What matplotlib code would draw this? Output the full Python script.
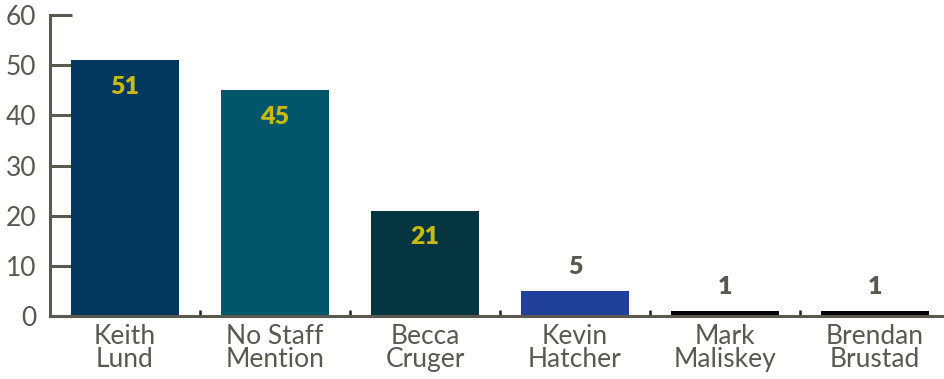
import matplotlib
matplotlib.use("Agg")
import matplotlib.pyplot as plt
from matplotlib.ticker import FixedLocator

# Mentions per staff member
names = ["Keith\nLund", "No Staff\nMention", "Becca\nCruger", "Kevin\nHatcher", "Mark\nMaliskey", "Brendan\nBrustad"]
counts = [51, 45, 21, 5, 1, 1]
bar_colors = ["#02375E", "#02566A", "#053540", "#21409A", "#000000", "#000000"]
y_ticks = [0, 10, 20, 30, 40, 50, 60]

axis_grey = "#595950"
inside_label = "#C8B914"
outside_label = "#595950"

plt.rcParams["font.family"] = ["Lato", "DejaVu Sans"]

fig = plt.figure(figsize=(9.44, 3.79), dpi=100)
ax = fig.add_axes([50 / 944, 63 / 379, 900 / 944, 301 / 379])

x = list(range(len(names)))
bars = ax.bar(x, counts, width=0.72, color=bar_colors, zorder=2)

ax.set_xlim(-0.5, len(names) - 0.5)
ax.set_ylim(0, 60)

for s in ["top", "right"]:
    ax.spines[s].set_visible(False)
for s in ["left", "bottom"]:
    ax.spines[s].set_color(axis_grey)
    ax.spines[s].set_linewidth(2.2)

ax.set_yticks(y_ticks)
ax.tick_params(axis="y", direction="in", length=16, width=2.2, color=axis_grey,
               labelsize=19, labelcolor=axis_grey, pad=10)

ax.set_xticks(x)
ax.set_xticklabels(names, linespacing=0.9)
ax.tick_params(axis="x", which="major", length=0, labelsize=19, labelcolor=axis_grey, pad=6)
ax.xaxis.set_minor_locator(FixedLocator([i + 0.5 for i in x]))
ax.tick_params(axis="x", which="minor", direction="in", length=4.5, width=1.8, color="#222222")

# Value labels: inside tall bars, above short ones
for xi, v in zip(x, counts):
    if v > 10:
        ax.annotate(str(v), (xi, v), xytext=(0, -19), textcoords="offset points",
                    ha="center", va="center", fontsize=18, fontweight="heavy",
                    color=inside_label, zorder=3)
    else:
        ax.annotate(str(v), (xi, v), xytext=(0, 17), textcoords="offset points",
                    ha="center", va="center", fontsize=18, fontweight="heavy",
                    color=outside_label, zorder=3)

fig.savefig("out.png", dpi=100)
